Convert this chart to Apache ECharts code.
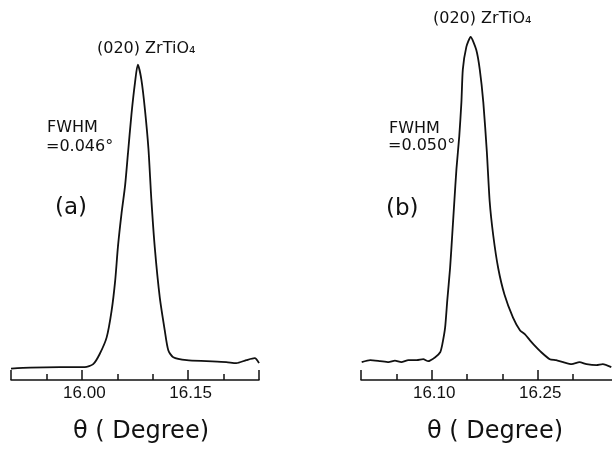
<!DOCTYPE html>
<html>
<head>
<meta charset="utf-8">
<script src="https://cdn.jsdelivr.net/npm/echarts@6/dist/echarts.min.js"></script>
<style>
  html, body { margin: 0; padding: 0; background: #fff; }
  #main { width: 612px; height: 449px; }
</style>
</head>
<body>
<div id="main"></div>
<script>
// panel (a) - theta (deg) and intensity (arb. units)
var thetaA = [15.900, 15.927, 15.969, 16.004, 16.016, 16.025, 16.035, 16.042, 16.047, 16.051,
  16.056, 16.061, 16.065, 16.070, 16.075, 16.079, 16.084, 16.089, 16.094, 16.098,
  16.103, 16.110, 16.117, 16.122, 16.129, 16.148, 16.176, 16.204, 16.218, 16.232,
  16.244, 16.250];
var intensityA = [11.5, 12.5, 13, 13, 16, 26, 43, 70, 100, 135,
  168, 196, 228, 268, 300, 318, 303, 273, 233, 183,
  133, 83, 50, 30, 23, 20, 19, 18, 17, 20,
  22, 17];

// panel (b)
var thetaB = [16.001, 16.013, 16.027, 16.039, 16.048, 16.057, 16.067, 16.079, 16.088, 16.095,
  16.105, 16.112, 16.115, 16.119, 16.122, 16.126, 16.129, 16.132, 16.135, 16.139,
  16.142, 16.144, 16.149, 16.155, 16.163, 16.168, 16.173, 16.178, 16.182, 16.187,
  16.194, 16.203, 16.215, 16.225, 16.232, 16.239, 16.244, 16.255, 16.267, 16.276,
  16.286, 16.298, 16.309, 16.319, 16.333, 16.342, 16.354];
var intensityB = [18, 20, 19, 18, 19.5, 18, 20, 20, 21, 19,
  23, 28, 36, 53, 80, 113, 146, 180, 213, 246,
  280, 313, 336, 346, 333, 313, 280, 230, 180, 146,
  113, 86, 63, 50, 46, 40, 36, 28, 21, 20,
  18, 16, 18, 16, 15, 16, 13];

var majorTicksA = [15.90, 16.00, 16.15, 16.25];
var minorTicksA = [15.95, 16.05, 16.10, 16.20];
var labelsA = [16.00, 16.15];
var majorTicksB = [16.00, 16.10, 16.25];
var minorTicksB = [16.05, 16.15, 16.20, 16.30];
var labelsB = [16.10, 16.25];

function pairs(xs, ys) {
  var out = [];
  for (var i = 0; i < xs.length; i++) out.push([xs[i], ys[i]]);
  return out;
}

var black = '#111';
var annFont = 'DejaVu Sans';

function mainAxis(grid, min, max, ticks, labels, shift) {
  return {
    type: 'value', gridIndex: grid, min: min, max: max, position: 'bottom',
    axisLine: { show: true, lineStyle: { color: black, width: 1.5 } },
    axisTick: { show: true, inside: true, length: 10, customValues: ticks,
      lineStyle: { color: black, width: 1.5 } },
    axisLabel: { customValues: labels, margin: 5, color: black,
      fontFamily: 'Liberation Sans', fontSize: 17, padding: [0, 0, 0, 5],
      formatter: function (v) { return v.toFixed(2); } },
    splitLine: { show: false },
    name: 'θ ( Degree)', nameLocation: 'middle', nameGap: 40,
    nameTextStyle: { fontFamily: annFont, fontSize: 24, color: black, padding: [0, 0, 0, shift] }
  };
}
function minorAxis(grid, min, max, ticks) {
  return {
    type: 'value', gridIndex: grid, min: min, max: max, position: 'bottom',
    axisLine: { show: false },
    axisTick: { show: true, inside: true, length: 6, customValues: ticks,
      lineStyle: { color: black, width: 1.5 } },
    axisLabel: { show: false },
    splitLine: { show: false }
  };
}

var chart = echarts.init(document.getElementById('main'));
chart.setOption({
  backgroundColor: '#fff',
  animation: false,
  grid: [
    { left: 11, width: 248, top: 33, height: 350 },
    { left: 361, width: 251, top: 33, height: 350 }
  ],
  xAxis: [
    mainAxis(0, 15.90, 16.25, majorTicksA, labelsA, 12),
    minorAxis(0, 15.90, 16.25, minorTicksA),
    mainAxis(1, 16.00, 16.355, majorTicksB, labelsB, 17),
    minorAxis(1, 16.00, 16.355, minorTicksB)
  ],
  yAxis: [
    { type: 'value', gridIndex: 0, min: 0, max: 350, show: false },
    { type: 'value', gridIndex: 1, min: 0, max: 350, show: false }
  ],
  graphic: [
    { type: 'text', left: 97, top: 41, style: { text: '(020) ZrTiO₄', font: '16px DejaVu Sans', fill: black } },
    { type: 'text', left: 47, top: 120, style: { text: 'FWHM', font: '16px DejaVu Sans', fill: black } },
    { type: 'text', left: 46, top: 139, style: { text: '=0.046°', font: '16px DejaVu Sans', fill: black } },
    { type: 'text', left: 55, top: 197, style: { text: '(a)', font: '23px DejaVu Sans', fill: black } },
    { type: 'text', left: 433, top: 11, style: { text: '(020) ZrTiO₄', font: '16px DejaVu Sans', fill: black } },
    { type: 'text', left: 389, top: 121, style: { text: 'FWHM', font: '16px DejaVu Sans', fill: black } },
    { type: 'text', left: 388, top: 138, style: { text: '=0.050°', font: '16px DejaVu Sans', fill: black } },
    { type: 'text', left: 386, top: 198, style: { text: '(b)', font: '23px DejaVu Sans', fill: black } }
  ],
  series: [
    { type: 'line', xAxisIndex: 0, yAxisIndex: 0, data: pairs(thetaA, intensityA),
      symbol: 'none', smooth: 0.25, lineStyle: { color: black, width: 1.8 } },
    { type: 'line', xAxisIndex: 2, yAxisIndex: 1, data: pairs(thetaB, intensityB),
      symbol: 'none', smooth: 0.2, lineStyle: { color: black, width: 1.8 } }
  ]
});
</script>
</body>
</html>
